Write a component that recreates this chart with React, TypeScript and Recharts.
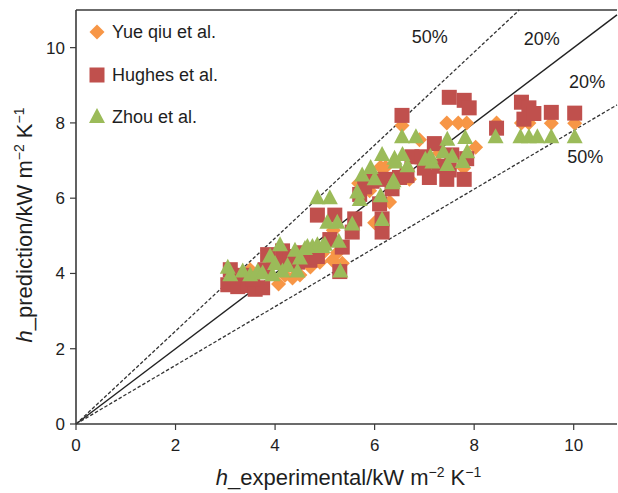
import React from 'react';
import { ScatterChart, Scatter, XAxis, YAxis, ReferenceLine, Legend } from 'recharts';

const FONT = '"Liberation Sans", Arial, Helvetica, sans-serif';
const AXIS = '#3a3a3a';
const TEXT = '#1e1e1e';

const X_MAX = 10.87;
const Y_MAX = 11;
const xTicks = [0, 2, 4, 6, 8, 10];
const yTicks = [0, 2, 4, 6, 8, 10];

// fitted lines: slope of y = k * x
const lineSlopes = [1, 1.235, 0.78];
const lineDashed = [false, true, true];

const yueQiu: [number, number][] = [
  [3.3, 3.85], [3.6, 3.95], [4.07, 3.72], [4.35, 3.88], [4.5, 3.96], [4.2, 3.95], [4.71, 4.17],
  [4.95, 4.53], [5.15, 4.35], [5.35, 4.27], [5.25, 4.55], [5.17, 5.15], [4.9, 4.3], [5.68, 6.4],
  [6.12, 6.83], [6.22, 6.83], [5.9, 6.2], [6.3, 5.9], [6.55, 7.93], [6.9, 7.55], [7.45, 8.0],
  [7.68, 8.0], [7.85, 8.0], [7.79, 6.8], [8.03, 7.35], [7.3, 7.2], [6.7, 6.5], [8.45, 8.0],
  [8.95, 8.0], [9.1, 8.0], [9.55, 7.99], [10.02, 7.99], [7.2, 6.9], [3.5, 4.1], [3.9, 4.2], [6.0, 5.35],
];

const hughes: [number, number][] = [
  [3.05, 3.7], [3.25, 3.65], [3.45, 3.68], [3.6, 3.58], [3.75, 3.62], [3.1, 4.1], [3.35, 3.95],
  [3.55, 3.85], [3.8, 4.1], [3.85, 4.5], [4.05, 4.3], [4.15, 4.6], [4.3, 4.45], [4.45, 4.3],
  [4.55, 4.55], [4.7, 4.35], [4.85, 4.45], [4.85, 5.55], [5.2, 5.55], [5.6, 5.45], [5.55, 5.1],
  [5.35, 4.7], [5.3, 4.05], [5.1, 4.9], [5.7, 6.1], [5.95, 6.45], [6.2, 6.5], [6.15, 5.1],
  [6.1, 5.85], [6.15, 5.45], [5.8, 6.3], [6.5, 6.55], [6.55, 8.2], [6.75, 7.1], [6.65, 6.6],
  [7.1, 6.55], [7.2, 7.45], [7.3, 6.85], [7.5, 6.75], [7.8, 6.5], [7.85, 7.05], [7.5, 8.68],
  [7.8, 8.6], [7.9, 8.4], [7.0, 6.8], [7.45, 6.5], [6.95, 7.1], [8.45, 7.86], [8.95, 8.55],
  [9.1, 8.4], [9.0, 8.1], [9.2, 8.25], [9.55, 8.28], [10.02, 8.26], [7.55, 7.15], [6.35, 6.25],
];

const zhou: [number, number][] = [
  [3.05, 4.15], [3.1, 3.95], [3.35, 4.05], [3.5, 3.95], [3.65, 4.05], [3.75, 4.0], [3.9, 4.45],
  [4.0, 4.25], [4.1, 4.75], [4.15, 4.05], [4.25, 4.2], [4.4, 4.6], [4.5, 4.4], [4.6, 4.65],
  [4.75, 4.7], [4.85, 4.75], [4.95, 4.7], [4.45, 4.05], [3.95, 3.95], [4.85, 6.0], [5.1, 6.0],
  [5.05, 5.35], [5.25, 5.35], [5.55, 5.3], [4.65, 4.7], [5.0, 4.76], [5.28, 4.84], [5.31, 4.05],
  [5.65, 6.15], [5.7, 5.95], [5.75, 6.6], [5.92, 6.8], [6.15, 7.15], [6.4, 7.05], [6.12, 6.05],
  [6.38, 6.45], [6.15, 5.42], [6.0, 6.5], [6.42, 6.95], [6.56, 7.15], [6.36, 6.4], [6.66, 6.85],
  [7.12, 7.1], [7.46, 7.55], [7.16, 6.95], [7.38, 7.22], [7.56, 7.1], [7.82, 7.6], [7.86, 7.22],
  [7.77, 6.96], [7.46, 6.88], [7.02, 7.02], [6.55, 7.62], [6.83, 7.62], [8.43, 7.62], [8.93, 7.62],
  [9.1, 7.62], [9.27, 7.62], [9.55, 7.62], [10.02, 7.62],
];

const noteX = [7.11, 9.36, 10.27, 10.23];
const noteY = [10.27, 10.22, 9.1, 7.09];
const noteText = ['50%', '20%', '20%', '50%'];

const seriesNames = ['Yue qiu et al.', 'Hughes et al.', 'Zhou et al.'];
const seriesColors = ['#F79646', '#C0504D', '#9BBB59'];
const seriesShapes = ['diamond', 'square', 'triangle'];

const toPts = (arr: [number, number][]) => arr.map(([x, y]) => ({ x, y }));
const notes = noteX.map((x, i) => ({ x, y: noteY[i], text: noteText[i] }));

function Marker({ kind, cx, cy, fill }: { kind: string; cx: number; cy: number; fill: string }) {
  if (cx == null || cy == null) return null;
  if (kind === 'diamond') {
    const r = 7.5;
    return <polygon points={`${cx},${cy - r} ${cx + r},${cy} ${cx},${cy + r} ${cx - r},${cy}`} fill={fill} />;
  }
  if (kind === 'square') {
    return <rect x={cx - 7.5} y={cy - 7.5} width={15} height={15} fill={fill} />;
  }
  return <polygon points={`${cx},${cy - 9} ${cx + 8},${cy + 6} ${cx - 8},${cy + 6}`} fill={fill} />;
}

const LegendContent = () => (
  <div style={{ fontFamily: FONT, fontSize: 18, color: TEXT }}>
    {seriesNames.map((n, i) => (
      <div key={n} style={{ display: 'flex', alignItems: 'center', height: 42.5 }}>
        <svg width={16} height={18} style={{ marginRight: 7, display: 'block' }}>
          <Marker kind={seriesShapes[i]} cx={8} cy={9} fill={seriesColors[i]} />
        </svg>
        <span style={{ lineHeight: '20px' }}>{n}</span>
      </div>
    ))}
  </div>
);

const XTitle = (props: any) => {
  const vb = props.viewBox || {};
  const cx = vb.x + vb.width / 2 + 2;
  const by = vb.y + 61;
  return (
    <text x={cx} y={by} textAnchor="middle" fontFamily={FONT} fontSize={22} fill={TEXT}>
      <tspan fontStyle="italic">h</tspan>
      <tspan>_experimental/kW m</tspan>
      <tspan dy={-8} fontSize={14}>−2</tspan>
      <tspan dy={8}> K</tspan>
      <tspan dy={-8} fontSize={14}>−1</tspan>
    </text>
  );
};

const YTitle = (props: any) => {
  const vb = props.viewBox || {};
  const bx = 32;
  const cy = vb.y + vb.height / 2 + 8;
  return (
    <text x={bx} y={cy} transform={`rotate(-90 ${bx} ${cy})`} textAnchor="middle" fontFamily={FONT} fontSize={22} fill={TEXT}>
      <tspan fontStyle="italic">h</tspan>
      <tspan>_prediction/kW m</tspan>
      <tspan dy={-8} fontSize={14}>−2</tspan>
      <tspan dy={8}> K</tspan>
      <tspan dy={-8} fontSize={14}>−1</tspan>
    </text>
  );
};

const NoteShape = (props: any) => {
  const { cx, cy, payload } = props;
  return (
    <text x={cx} y={cy} textAnchor="middle" dominantBaseline="central" fontFamily={FONT} fontSize={18} fill={TEXT}>
      {payload.text}
    </text>
  );
};

export default function App() {
  const datasets = [yueQiu, hughes, zhou];
  return (
    <div style={{ position: 'absolute', left: 0, top: 0, width: 618, height: 493, background: '#fff' }}>
      <ScatterChart width={618} height={493} margin={{ top: 10, right: 1, bottom: 0, left: 0 }}>
        <XAxis
          type="number"
          dataKey="x"
          domain={[0, X_MAX]}
          ticks={xTicks}
          allowDataOverflow
          tick={{ fill: TEXT, fontSize: 17, fontFamily: FONT }}
          tickSize={6}
          tickMargin={9}
          axisLine={{ stroke: AXIS, strokeWidth: 1.6 }}
          tickLine={{ stroke: AXIS, strokeWidth: 1.2 }}
          height={69}
          label={{ content: XTitle }}
        />
        <YAxis
          type="number"
          dataKey="y"
          domain={[0, Y_MAX]}
          ticks={yTicks}
          allowDataOverflow
          tick={{ fill: TEXT, fontSize: 17, fontFamily: FONT }}
          tickSize={6}
          tickMargin={5}
          axisLine={{ stroke: AXIS, strokeWidth: 1.6 }}
          tickLine={{ stroke: AXIS, strokeWidth: 1.2 }}
          width={76}
          label={{ content: YTitle }}
        />
        <Legend
          layout="vertical"
          align="center"
          verticalAlign="middle"
          wrapperStyle={{ left: 89, top: 11, width: 200, height: 130 }}
          content={LegendContent}
        />
        {datasets.map((d, i) => (
          <Scatter
            key={seriesNames[i]}
            name={seriesNames[i]}
            data={toPts(d)}
            fill={seriesColors[i]}
            isAnimationActive={false}
            shape={(p: any) => <Marker kind={seriesShapes[i]} cx={p.cx} cy={p.cy} fill={seriesColors[i]} />}
          />
        ))}
        <Scatter name="notes" data={notes} isAnimationActive={false} shape={NoteShape} legendType="none" />
        {lineSlopes.map((k, i) => {
          const xe = Math.min(X_MAX, Y_MAX / k);
          return (
            <ReferenceLine
              key={i}
              segment={[{ x: 0, y: 0 }, { x: xe, y: xe * k }]}
              stroke={lineDashed[i] ? '#333' : '#222'}
              strokeWidth={lineDashed[i] ? 1.3 : 1.4}
              strokeDasharray={lineDashed[i] ? '3.5 2' : undefined}
              ifOverflow="visible"
            />
          );
        })}
        <ReferenceLine y={Y_MAX} stroke={AXIS} strokeWidth={1.6} ifOverflow="visible" />
      </ScatterChart>
    </div>
  );
}
